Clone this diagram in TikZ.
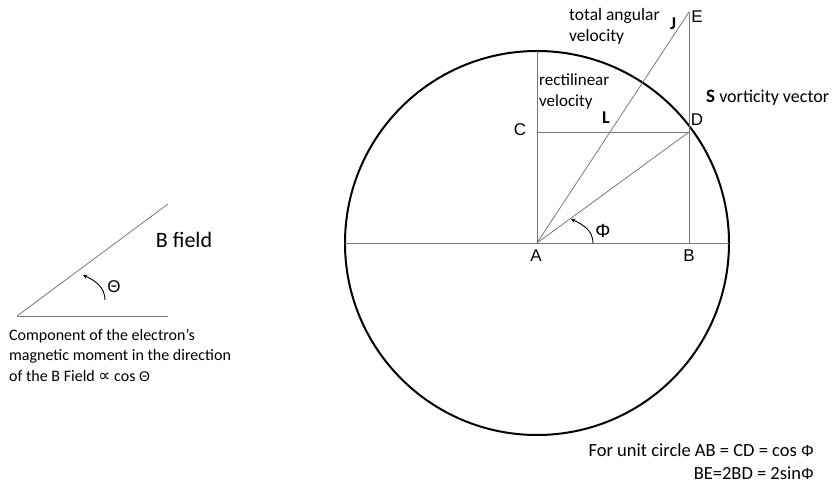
\documentclass[tikz,border=0pt]{standalone}
\usepackage{fontspec}
\setmainfont{Carlito}
\newfontfamily\letterfont{Liberation Sans}
\newfontfamily\symbfont{DejaVu Sans}
\usepackage{tikz}
\usetikzlibrary{calc}
\definecolor{thingray}{RGB}{120,120,120}

\begin{document}
\begin{tikzpicture}[x=1pt, y=-1pt,
    thin_line/.style={draw=thingray, line width=0.8pt},
    circ_line/.style={draw=black, line width=2pt},
    arrow/.style={->, >=stealth, line width=0.9pt, color=black},
    letter_font/.style={font=\letterfont\fontsize{17}{20}\selectfont, inner sep=0pt},
    bold_font/.style={font=\bfseries\fontsize{18}{21}\selectfont, inner sep=0pt},
    label_font/.style={font=\fontsize{17}{21}\selectfont, inner sep=0pt, align=left}
  ]
    \useasboundingbox (0,0) rectangle (838,489);

    % main circle construction
    \coordinate (A) at (537,243);
    \coordinate (B) at (689,243);
    \coordinate (C) at (537,132);
    \coordinate (D) at (689,132);
    \coordinate (E) at (689,12);
    \coordinate (top) at (537,51);
    \coordinate (left) at (345,243);
    \coordinate (right) at (729,243);

    \draw[circ_line] (A) circle (192pt);
    \draw[thin_line] (left) -- (right);
    \draw[thin_line] (A) -- (top);
    \draw[thin_line] (C) -- (D);
    \draw[thin_line] (B) -- (E);
    \draw[thin_line] (A) -- (E);
    \draw[thin_line] (A) -- (D);

    % angle Phi
    \coordinate (phi_s) at (593,243);
    \coordinate (phi_t) at (571,219);
    \draw[arrow] (phi_s) to[out=90, in=-25] (phi_t);
    \node[letter_font, font=\letterfont\fontsize{19}{22}\selectfont] (phi) at (603,231) {Φ};

    % point labels
    \node[letter_font] (lA) at (536,256) {A};
    \node[letter_font] (lB) at (689,256) {B};
    \node[letter_font] (lC) at (520,130) {C};
    \node[letter_font] (lD) at (697,120) {D};
    \node[letter_font] (lE) at (697,17)  {E};

    \node[bold_font] (lJ) at (673,24)  {J};
    \node[bold_font] (lL) at (606,118) {L};

    \node[label_font, font=\fontsize{17.5}{21.5}\selectfont, anchor=north west] (tav) at (569,8) {total angular\\velocity};
    \node[label_font, anchor=north west] (rv)  at (539,73) {rectilinear\\velocity};
    \node[label_font, font=\fontsize{18}{21}\selectfont, anchor=west] (sv) at (706,98)
      {\textbf{\fontsize{19}{21}\selectfont S} vorticity vector};

    \node[label_font, font=\fontsize{18.5}{23}\selectfont, align=right, anchor=north east] (note) at (814,443)
      {For unit circle AB = CD = cos {\letterfont\fontsize{16}{19}\selectfont Φ}\\
       BE=2BD = 2sin{\letterfont\fontsize{16}{19}\selectfont Φ}};

    % B field sketch
    \coordinate (O) at (17,316);
    \coordinate (Bf) at (168,204);
    \coordinate (Hx) at (168,316);
    \draw[thin_line] (O) -- (Bf);
    \draw[thin_line] (O) -- (Hx);
    \coordinate (th_s) at (105,300);
    \coordinate (th_t) at (83,275);
    \draw[arrow] (th_s) to[out=90, in=-25] (th_t);
    \node[letter_font] (theta) at (114,287) {Θ};
    \node[font=\fontsize{22}{25}\selectfont, inner sep=0pt] (bfield) at (184,240) {B field};

    \node[label_font, font=\fontsize{16}{20.5}\selectfont, anchor=north west] (comp) at (9,329)
      {Component of the electron’s\\magnetic moment in the direction\\of the B Field {\symbfont\fontsize{17}{17}\selectfont ∝} cos {\letterfont\fontsize{14}{17}\selectfont Θ}};
  \end{tikzpicture}
\end{document}
